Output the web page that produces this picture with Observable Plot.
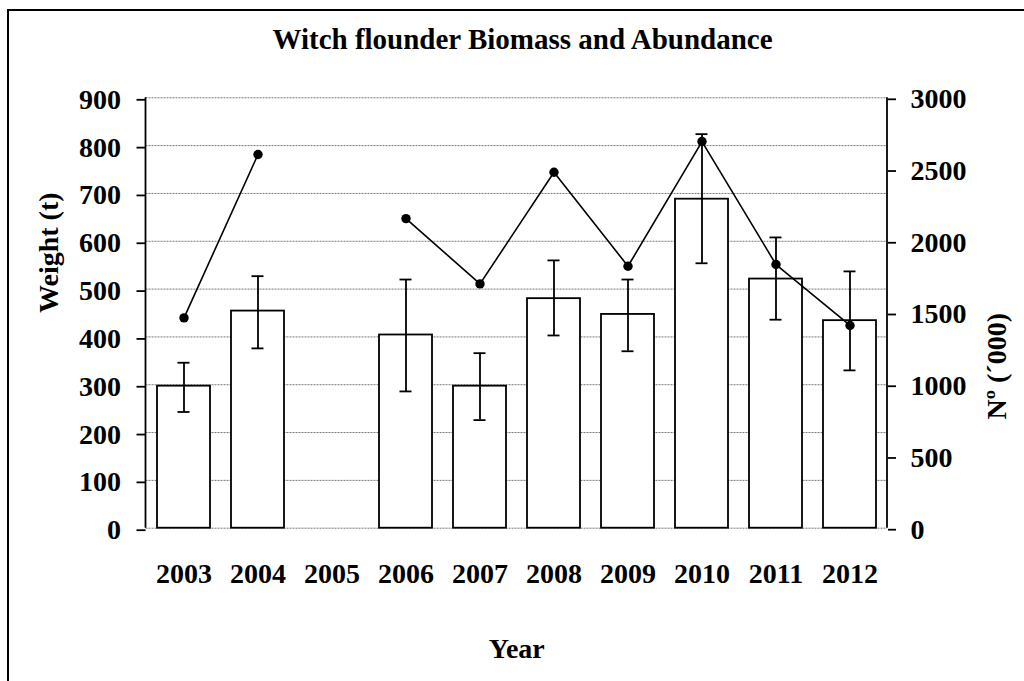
<!DOCTYPE html>
<html>
<head>
<meta charset="utf-8">
<script src="https://cdn.jsdelivr.net/npm/d3@7"></script>
<script src="https://cdn.jsdelivr.net/npm/@observablehq/plot@0.6"></script>
<style>
  html, body { margin: 0; padding: 0; background: #fff; }
  body { width: 1024px; height: 681px; overflow: hidden; position: relative; }
  #frame { position: absolute; left: 7px; top: 9px; width: 1100px; height: 900px; border: 2px solid #000; box-sizing: border-box; pointer-events: none; }
  #title { height: 60px; box-sizing: border-box; padding-top: 25px; padding-left: 21px; font-family: "Liberation Serif", serif; font-weight: bold; font-size: 29px; line-height: 29px; text-align: center; color: #000; white-space: nowrap; }
  #chart { display: block; }
</style>
</head>
<body>
<div id="frame"></div>
<div id="title">Witch flounder Biomass and Abundance</div>
<div id="chart"></div>
<script>
// ---- data ----
const years = ["2003", "2004", "2005", "2006", "2007", "2008", "2009", "2010", "2011", "2012"];
const biomass   = [297, 454, null, 404, 297, 480, 447, 688, 521, 434];
const biomassLo = [243, 376, null, 286, 226, 403, 370, 554, 436, 330];
const biomassHi = [346, 527, null, 520, 366, 560, 520, 824, 608, 537];
const abundance = [1466, 2605, null, 2158, 1703, 2481, 1826, 2695, 1838, 1413];
const leftTicks  = [0, 100, 200, 300, 400, 500, 600, 700, 800, 900];
const rightTicks = [0, 500, 1000, 1500, 2000, 2500, 3000];
const yLabelLeft = "Weight (t)";
const yLabelRight = "Nº (´000)";
const xLabel = "Year";

const leftMax = 900, rightMax = 3000;
const k = leftMax / rightMax; // right axis mapped onto left scale

const rows = years.map((year, i) => ({
  year, w: biomass[i], lo: biomassLo[i], hi: biomassHi[i],
  n: abundance[i] == null ? NaN : abundance[i] * k
}));

const font = {fontFamily: "Liberation Serif", fontWeight: "bold", fontSize: 28};

const chart = Plot.plot({
  width: 1024,
  height: 621,
  marginLeft: 145.5,
  marginRight: 137,
  marginTop: 37.3,
  marginBottom: 153.3,
  style: {fontFamily: "Liberation Serif", fontSize: "28px", fontWeight: "bold", color: "#000", background: "transparent", overflow: "visible"},
  x: {domain: years, paddingInner: 0.285, paddingOuter: 0.14, axis: null},
  y: {domain: [0, leftMax], axis: null},
  marks: [
    Plot.gridY(leftTicks, {stroke: "#777", strokeOpacity: 1, strokeWidth: 1, strokeDasharray: "2,1"}),
    Plot.barY(rows, {x: "year", y: "w", fill: "white", stroke: "black", strokeWidth: 1.8}),
    Plot.ruleX(rows.filter(d => d.w != null), {x: "year", y1: "lo", y2: "hi", stroke: "black", strokeWidth: 1.8}),
    Plot.tickY(rows.filter(d => d.w != null), {x: "year", y: "hi", insetLeft: 20.5, insetRight: 20.5, stroke: "black", strokeWidth: 1.8}),
    Plot.tickY(rows.filter(d => d.w != null), {x: "year", y: "lo", insetLeft: 20.5, insetRight: 20.5, stroke: "black", strokeWidth: 1.8}),
    Plot.line(rows, {x: "year", y: "n", stroke: "black", strokeWidth: 1.6}),
    Plot.dot(rows.filter(d => !isNaN(d.n)), {x: "year", y: "n", r: 4.7, fill: "black", stroke: "none"}),
    Plot.axisY({anchor: "left", ticks: leftTicks, tickSize: 9, tickPadding: 16, tickFormat: d => String(d), stroke: "black", strokeWidth: 1.8, dy: 2, ...font, label: null}),
    Plot.axisY({anchor: "right", ticks: rightTicks.map(v => v * k), tickSize: 8, tickPadding: 15, tickFormat: d => String(Math.round(d / k)), stroke: "black", strokeWidth: 1.8, dy: 1.5, ...font, label: null}),
    Plot.axisX({anchor: "bottom", tickSize: 0, tickPadding: 35.2, ...font, label: null}),
    Plot.text([yLabelLeft], {frameAnchor: "left", text: d => d, rotate: -90, dx: -96.5, ...font}),
    Plot.text([yLabelRight], {frameAnchor: "right", text: d => d, rotate: -90, dx: 110, ...font}),
    Plot.text([xLabel], {frameAnchor: "bottom", text: d => d, dy: 130, ...font})
  ]
});

// vertical axis lines derived from the plot's own scales
const xr = chart.scale("x").range;
const yr = chart.scale("y").range;
const svg = d3.select(chart);
[xr[0], xr[1]].forEach(x => {
  svg.append("line")
    .attr("x1", x).attr("x2", x)
    .attr("y1", Math.min(...yr)).attr("y2", Math.max(...yr))
    .attr("stroke", "black").attr("stroke-width", 1.8);
});

document.getElementById("chart").appendChild(chart);
</script>
</body>
</html>
